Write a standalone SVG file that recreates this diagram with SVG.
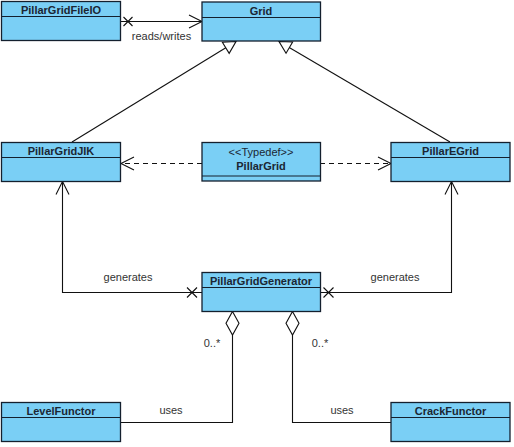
<svg xmlns="http://www.w3.org/2000/svg" width="514" height="447" viewBox="0 0 514 447">
<style>
.box{fill:#7acff5;stroke:#14202e;stroke-width:1.3}
.sep{stroke:#14202e;stroke-width:1.2}
.name{font-family:"Liberation Sans",Arial,sans-serif;font-size:11px;font-weight:bold;fill:#1b2633;text-anchor:middle}
.stereo{font-family:"Liberation Sans",Arial,sans-serif;font-size:11px;fill:#1b2633;text-anchor:middle}
.lbl{font-family:"Liberation Sans",Arial,sans-serif;font-size:11px;fill:#333;text-anchor:middle}
.ln{fill:none;stroke:#111;stroke-width:1.1}
.dash{stroke-dasharray:5,4}
.x{fill:none;stroke:#111;stroke-width:1.1}
.dia{fill:#fff;stroke:#111;stroke-width:1.1}
</style>
<defs>
<marker id="open" markerUnits="userSpaceOnUse" markerWidth="16" markerHeight="16" refX="14" refY="7.5" orient="auto" overflow="visible">
<path d="M1,1 L14,7.5 L1,14" fill="none" stroke="#111" stroke-width="1.1"/>
</marker>
<marker id="gen" markerUnits="userSpaceOnUse" markerWidth="16" markerHeight="16" refX="13" refY="7" orient="auto" overflow="visible">
<path d="M1,0.5 L13,7 L1,13.5 z" fill="#fff" stroke="#111" stroke-width="1.1"/>
</marker>
</defs>

<g id="connectors">
<!-- reads/writes -->
<line class="ln" x1="120" y1="21.5" x2="202" y2="21.5" marker-end="url(#open)"/>
<path class="x" d="M123.5,17 L132.5,26 M132.5,17 L123.5,26"/>
<text class="lbl" x="161.5" y="40">reads/writes</text>
<!-- generalizations -->
<line class="ln" x1="72" y1="142" x2="236" y2="41.5" marker-end="url(#gen)"/>
<line class="ln" x1="450" y1="142" x2="279" y2="41.5" marker-end="url(#gen)"/>
<!-- typedef dependencies -->
<line class="ln dash" x1="202" y1="163.5" x2="121" y2="163.5" marker-end="url(#open)"/>
<line class="ln dash" x1="320" y1="163.5" x2="391" y2="163.5" marker-end="url(#open)"/>
<!-- generates -->
<polyline class="ln" points="202,292.5 62.5,292.5 62.5,181.5" marker-end="url(#open)"/>
<path class="x" d="M187,287.5 L197,297.5 M197,287.5 L187,297.5"/>
<text class="lbl" x="128" y="281">generates</text>
<polyline class="ln" points="320,292.5 451.5,292.5 451.5,181.5" marker-end="url(#open)"/>
<path class="x" d="M323.5,287.5 L333.5,297.5 M333.5,287.5 L323.5,297.5"/>
<text class="lbl" x="395" y="281">generates</text>
<!-- aggregations -->
<polyline class="ln" points="232.5,335 232.5,422.5 120.5,422.5"/>
<polygon class="dia" points="232.5,311.5 239,323.25 232.5,335 226,323.25"/>
<text class="lbl" x="212" y="347">0..*</text>
<text class="lbl" x="171" y="414">uses</text>
<polyline class="ln" points="292.5,335 292.5,422.5 391,422.5"/>
<polygon class="dia" points="292.5,311.5 299,323.25 292.5,335 286,323.25"/>
<text class="lbl" x="320" y="347">0..*</text>
<text class="lbl" x="342" y="414">uses</text>
</g>

<g id="PillarGridFileIO">
<rect class="box" x="1.5" y="1.5" width="119" height="39"/>
<line class="sep" x1="1.5" y1="16.5" x2="120.5" y2="16.5"/>
<text class="name" x="61" y="13.5">PillarGridFileIO</text>
</g>

<g id="Grid">
<rect class="box" x="202" y="2" width="118.5" height="39"/>
<line class="sep" x1="202" y1="17.5" x2="320.5" y2="17.5"/>
<text class="name" x="261" y="14.5">Grid</text>
</g>

<g id="PillarGridJIK">
<rect class="box" x="1.5" y="142.5" width="119" height="39"/>
<line class="sep" x1="1.5" y1="157.5" x2="120.5" y2="157.5"/>
<text class="name" x="61" y="154.5">PillarGridJIK</text>
</g>

<g id="PillarGrid">
<rect class="box" x="202" y="142.5" width="118.5" height="38.5"/>
<line class="sep" x1="202" y1="176" x2="320.5" y2="176"/>
<text class="stereo" x="261" y="155.5">&lt;&lt;Typedef&gt;&gt;</text>
<text class="name" x="261" y="169.5">PillarGrid</text>
</g>

<g id="PillarEGrid">
<rect class="box" x="391" y="142.5" width="119" height="39"/>
<line class="sep" x1="391" y1="157.5" x2="510" y2="157.5"/>
<text class="name" x="450.5" y="154.5">PillarEGrid</text>
</g>

<g id="PillarGridGenerator">
<rect class="box" x="202" y="272.5" width="118.5" height="39"/>
<line class="sep" x1="202" y1="287.5" x2="320.5" y2="287.5"/>
<text class="name" x="261" y="284.5">PillarGridGenerator</text>
</g>

<g id="LevelFunctor">
<rect class="box" x="1.5" y="402.5" width="119" height="39"/>
<line class="sep" x1="1.5" y1="417.5" x2="120.5" y2="417.5"/>
<text class="name" x="61" y="414.5">LevelFunctor</text>
</g>

<g id="CrackFunctor">
<rect class="box" x="391" y="402.5" width="119" height="39"/>
<line class="sep" x1="391" y1="417.5" x2="510" y2="417.5"/>
<text class="name" x="450.5" y="414.5">CrackFunctor</text>
</g>
</svg>
